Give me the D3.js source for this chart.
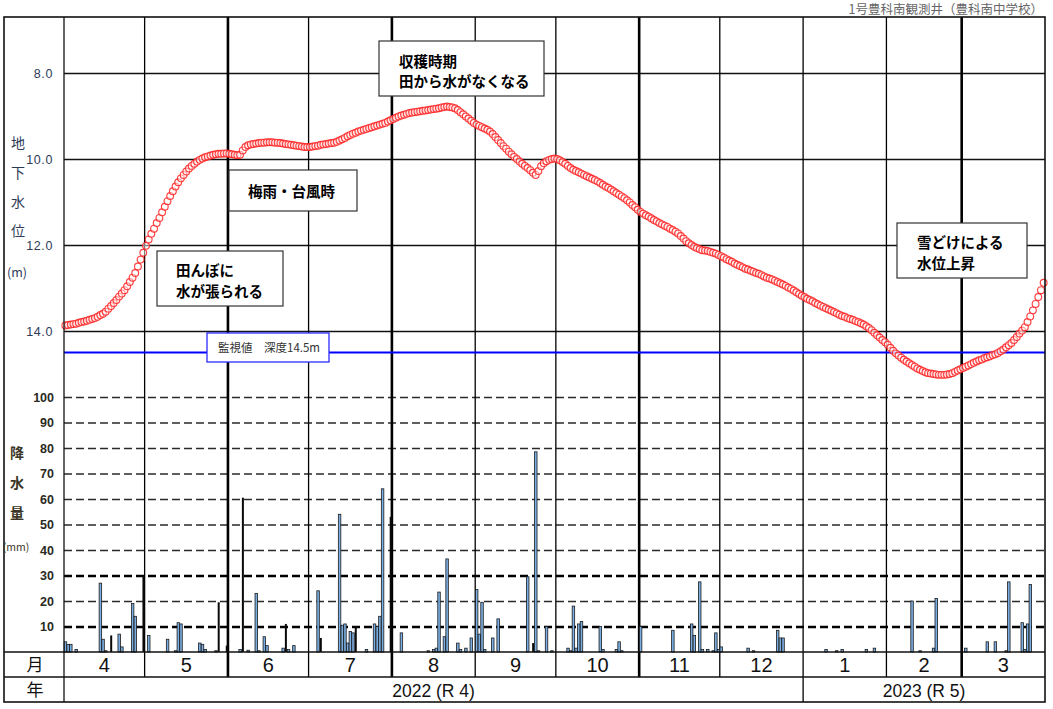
<!DOCTYPE html>
<html>
<head>
<meta charset="utf-8">
<script src="https://cdn.jsdelivr.net/npm/d3@7"></script>
<style>
  body { margin: 0; background: #fff; }
  .jp { font-family: "Noto Sans CJK JP", sans-serif; }
  .num { font-family: "Liberation Sans", Arial, sans-serif; }
  .narrow { font-family: "Liberation Sans Narrow", "Liberation Sans", Arial, sans-serif; }
</style>
</head>
<body>
<div id="chart"></div>
<script>
// Groundwater level (m below surface), daily, one array per month
let lvApr = [13.87,13.86,13.85,13.84,13.83,13.81,13.79,13.78,13.76,13.74,13.72,13.70,13.67,13.63,13.60,13.55,13.48,13.42,13.35,13.28,13.20,13.13,13.05,12.96,12.86,12.76,12.65,12.50,12.34,12.18];
let lvMay = [12.02,11.87,11.74,11.62,11.49,11.37,11.24,11.11,10.98,10.86,10.75,10.64,10.54,10.45,10.37,10.29,10.22,10.16,10.11,10.06,10.02,9.99,9.96,9.94,9.92,9.90,9.89,9.88,9.88,9.87,9.87];
let lvJun = [9.88,9.89,9.90,9.91,9.90,9.80,9.72,9.68,9.66,9.65,9.64,9.63,9.62,9.62,9.61,9.61,9.61,9.62,9.62,9.63,9.64,9.65,9.66,9.67,9.68,9.69,9.70,9.71,9.72,9.72];
let lvJul = [9.72,9.71,9.70,9.69,9.67,9.66,9.65,9.64,9.63,9.62,9.60,9.57,9.54,9.51,9.47,9.44,9.41,9.39,9.36,9.34,9.32,9.30,9.28,9.26,9.24,9.22,9.20,9.18,9.16,9.13,9.10];
let lvAug = [9.07,9.04,9.01,8.99,8.97,8.95,8.93,8.92,8.91,8.90,8.89,8.88,8.87,8.86,8.85,8.84,8.83,8.82,8.80,8.79,8.78,8.79,8.80,8.82,8.86,8.91,8.96,9.01,9.06,9.11,9.16];
let lvSep = [9.20,9.23,9.26,9.29,9.32,9.36,9.42,9.49,9.56,9.63,9.70,9.76,9.83,9.89,9.95,10.00,10.06,10.11,10.16,10.21,10.26,10.32,10.37,10.28,10.17,10.10,10.05,10.02,10.00,9.99];
let lvOct = [10.00,10.03,10.07,10.11,10.16,10.21,10.25,10.28,10.31,10.34,10.37,10.40,10.43,10.46,10.49,10.52,10.56,10.60,10.64,10.67,10.71,10.75,10.79,10.83,10.87,10.91,10.96,11.01,11.07,11.12,11.18];
let lvNov = [11.23,11.27,11.31,11.34,11.38,11.42,11.45,11.49,11.52,11.55,11.58,11.62,11.65,11.69,11.73,11.79,11.85,11.91,11.96,12.00,12.04,12.07,12.10,12.12,12.13,12.14,12.16,12.18,12.20,12.23];
let lvDec = [12.26,12.29,12.33,12.36,12.39,12.43,12.46,12.49,12.52,12.55,12.57,12.60,12.62,12.65,12.67,12.70,12.73,12.76,12.78,12.80,12.83,12.86,12.89,12.92,12.95,12.99,13.02,13.06,13.10,13.14,13.18];
let lvJan = [13.21,13.25,13.28,13.31,13.35,13.38,13.41,13.44,13.47,13.50,13.53,13.56,13.59,13.62,13.65,13.67,13.70,13.72,13.74,13.77,13.79,13.82,13.85,13.89,13.93,13.98,14.04,14.10,14.15,14.21,14.26];
let lvFeb = [14.32,14.39,14.46,14.52,14.57,14.62,14.67,14.71,14.75,14.79,14.83,14.87,14.90,14.93,14.96,14.98,14.99,15.00,15.01,15.02,15.02,15.02,15.01,15.00,14.98,14.95,14.92,14.89];
let lvMar = [14.86,14.83,14.80,14.77,14.74,14.71,14.68,14.66,14.63,14.61,14.59,14.56,14.54,14.51,14.47,14.43,14.38,14.33,14.28,14.21,14.14,14.06,13.99,13.91,13.79,13.66,13.52,13.37,13.21,13.05,12.88];

// Daily precipitation (mm), blue bars
let rainBlue = [
  ['2022-04-01',4],['2022-04-02',3],['2022-04-03',3],['2022-04-05',1],['2022-04-14',27],['2022-04-15',5],
  ['2022-04-16',0.5],['2022-04-21',7],['2022-04-22',2],['2022-04-26',19],['2022-04-27',14],
  ['2022-05-02',6.5],['2022-05-09',5],['2022-05-12',0.5],['2022-05-13',11.5],['2022-05-14',11],
  ['2022-05-21',3.5],['2022-05-22',3],['2022-05-23',1],['2022-05-27',0.5],
  ['2022-06-05',1],['2022-06-08',0.7],['2022-06-11',23],['2022-06-12',0.5],['2022-06-14',6],['2022-06-15',2.5],
  ['2022-06-21',1.5],['2022-06-23',1],['2022-06-25',2.5],
  ['2022-07-04',24],['2022-07-12',54],['2022-07-13',10.5],['2022-07-14',11],['2022-07-15',3.5],['2022-07-16',8],
  ['2022-07-17',7.5],['2022-07-22',1],['2022-07-25',11],['2022-07-26',10],['2022-07-27',14],['2022-07-28',64],
  ['2022-08-04',7.5],['2022-08-14',0.5],['2022-08-16',1],['2022-08-17',1.5],['2022-08-18',23.5],['2022-08-20',6],
  ['2022-08-21',36.5],['2022-08-25',3.5],['2022-08-26',1],['2022-08-28',1.5],['2022-08-30',5.5],
  ['2022-09-01',24.5],['2022-09-02',7],['2022-09-03',19.5],['2022-09-04',1],['2022-09-07',5.5],['2022-09-09',13],
  ['2022-09-20',29.5],['2022-09-23',78.5],['2022-09-24',0.5],['2022-09-27',10],['2022-09-29',0.5],
  ['2022-10-05',1.5],['2022-10-06',0.5],['2022-10-07',18],['2022-10-08',1.5],['2022-10-09',11],['2022-10-10',12],
  ['2022-10-17',10],['2022-10-18',1],['2022-10-23',1],['2022-10-24',4],['2022-10-25',0.5],
  ['2022-11-01',10],['2022-11-13',8.5],['2022-11-20',11],['2022-11-21',6.5],['2022-11-23',27.5],['2022-11-24',1],
  ['2022-11-26',1],['2022-11-28',0.5],['2022-11-29',7.5],['2022-11-30',1],
  ['2022-12-01',2],['2022-12-11',1.5],['2022-12-13',0.5],['2022-12-22',8.5],['2022-12-23',5.5],['2022-12-24',5.5],
  ['2023-01-09',1],['2023-01-13',0.5],['2023-01-15',1],['2023-01-24',1],['2023-01-27',1.5],
  ['2023-02-10',20],['2023-02-13',0.5],['2023-02-18',1.5],['2023-02-19',21],
  ['2023-03-02',1.5],['2023-03-10',4],['2023-03-13',4],['2023-03-17',0.5],['2023-03-18',27.5],['2023-03-23',11.5],
  ['2023-03-24',1],['2023-03-25',11],['2023-03-26',26.5]
];
// Daily precipitation (mm), dark bars
let rainDark = [
  ['2022-04-18',6.5],['2022-04-30',30],['2022-05-28',19.5],['2022-05-31',2.5],['2022-06-06',60.5],
  ['2022-06-22',11],['2022-07-05',5.5],['2022-07-18',10],['2022-07-31',53],['2022-09-22',3.5]
];

let levelTicks = [8, 10, 12, 14];
let rainTicks = [10, 20, 30, 40, 50, 60, 70, 80, 90, 100];
let boldRainTicks = [10, 30];
let warningLevel = 14.5;
let warningLabel = '監視値　深度14.5m';
let title = '1号豊科南観測井（豊科南中学校）';
let yearSpans = [
  {label: '2022 (R 4)', from: '2022-04-01', to: '2023-01-01'},
  {label: '2023 (R 5)', from: '2023-01-01', to: '2023-04-01'}
];
let notes = [
  {lines: ['田んぼに', '水が張られる']},
  {lines: ['梅雨・台風時']},
  {lines: ['収穫時期', '田から水がなくなる']},
  {lines: ['雪どけによる', '水位上昇']}
];

// layout
let svgWidth = 1053;
let svgHeight = 709;
let frame = {left: 4, top: 17, right: 1045, bottom: 702};
let plotLeft = 64;
let rainBase = 652;
let monthRowBottom = 677;
let noteBoxes = [
  {x: 157, y: 251, w: 126, h: 55, tx: 176, ty: [276, 297]},
  {x: 229, y: 170, w: 128, h: 41, tx: 248, ty: [197]},
  {x: 379, y: 41, w: 165, h: 55, tx: 399, ty: [67, 87]},
  {x: 897, y: 223, w: 130, h: 55, tx: 917, ty: [248, 269]}
];
let warnBox = {x: 207, y: 333, w: 122, h: 29};

let parseDate = d3.timeParse('%Y-%m-%d');
let startDate = new Date(2022, 3, 1);
let endDate = new Date(2023, 3, 1);

let xScale = d3.scaleTime().domain([startDate, endDate]).range([plotLeft, frame.right]);
let dayPx = (frame.right - plotLeft) / 365;
let yLevel = d3.scaleLinear().domain([8, 14]).range([73, 331]);
let yRain = d3.scaleLinear().domain([0, 100]).range([rainBase, 397]);

let levelMonths = [lvApr, lvMay, lvJun, lvJul, lvAug, lvSep, lvOct, lvNov, lvDec, lvJan, lvFeb, lvMar];
let levelData = [];
levelMonths.forEach(function(vals, mi) {
  let m0 = d3.timeMonth.offset(startDate, mi);
  vals.forEach(function(v, i) {
    levelData.push({date: d3.timeDay.offset(m0, i), value: v});
  });
});

let svg = d3.select('#chart').append('svg')
  .attr('width', svgWidth)
  .attr('height', svgHeight);

svg.append('rect').attr('width', svgWidth).attr('height', svgHeight).attr('fill', '#fff');

// title
svg.append('text')
  .classed('jp', true)
  .attr('x', 1043).attr('y', 14)
  .attr('text-anchor', 'end')
  .attr('font-size', '12.5px')
  .attr('fill', '#666')
  .text(title);

// level grid + labels
let levelAxis = d3.axisLeft(yLevel)
  .tickValues(levelTicks)
  .tickFormat(d3.format('.1f'))
  .tickSize(-(frame.right - plotLeft))
  .tickPadding(11);

svg.append('g')
  .attr('transform', `translate(${plotLeft},0)`)
  .call(levelAxis)
  .call(g => g.select('.domain').remove())
  .call(g => g.selectAll('line').attr('stroke', '#111').attr('stroke-width', 1.3))
  .call(g => g.selectAll('text')
    .attr('class', 'num')
    .attr('font-size', '12.5px')
    .attr('letter-spacing', '0.6px')
    .attr('fill', '#2d3b58'));

// rain grid + labels
let rainAxis = d3.axisLeft(yRain)
  .tickValues(rainTicks)
  .tickFormat(d3.format('d'))
  .tickSize(-(frame.right - plotLeft))
  .tickPadding(10);

svg.append('g')
  .attr('transform', `translate(${plotLeft},0)`)
  .call(rainAxis)
  .call(g => g.select('.domain').remove())
  .call(g => g.selectAll('line')
    .attr('stroke', d => boldRainTicks.includes(d) ? '#000' : '#2a2a2a')
    .attr('stroke-width', d => boldRainTicks.includes(d) ? 2.3 : 1.4)
    .attr('stroke-dasharray', '8,4'))
  .call(g => g.selectAll('text')
    .attr('class', 'narrow')
    .attr('font-size', '12.5px')
    .attr('font-weight', 'bold')
    .attr('fill', '#2a2a22'));

// month boundaries
let monthStarts = d3.timeMonth.range(d3.timeMonth.offset(startDate, 1), endDate);
let thickMonths = [5, 7, 10, 2];
svg.append('g').selectAll('line')
  .data(monthStarts)
  .enter()
  .append('line')
  .attr('x1', d => xScale(d)).attr('x2', d => xScale(d))
  .attr('y1', frame.top)
  .attr('y2', d => d.getMonth() === 0 ? frame.bottom : monthRowBottom)
  .attr('stroke', '#000')
  .attr('stroke-width', d => thickMonths.includes(d.getMonth()) ? 2.6 : 1.3);

// warning line
svg.append('line')
  .attr('x1', plotLeft).attr('x2', frame.right)
  .attr('y1', yLevel(warningLevel)).attr('y2', yLevel(warningLevel))
  .attr('stroke', '#0000ff')
  .attr('stroke-width', 2);

// precipitation bars
svg.append('g').selectAll('rect')
  .data(rainBlue)
  .enter()
  .append('rect')
  .attr('x', d => xScale(parseDate(d[0])) + 0.2)
  .attr('y', d => yRain(d[1]))
  .attr('width', dayPx - 0.2)
  .attr('height', d => rainBase - yRain(d[1]))
  .attr('fill', '#7aaee2')
  .attr('stroke', '#1b1b1b')
  .attr('stroke-width', 0.8);

svg.append('g').selectAll('rect')
  .data(rainDark)
  .enter()
  .append('rect')
  .attr('x', d => xScale(parseDate(d[0])) + 0.5)
  .attr('y', d => yRain(d[1]))
  .attr('width', 2)
  .attr('height', d => rainBase - yRain(d[1]))
  .attr('fill', '#0a0a0a');

// level circles
svg.append('g').selectAll('circle')
  .data(levelData)
  .enter()
  .append('circle')
  .attr('cx', d => xScale(d.date) + dayPx / 2)
  .attr('cy', d => yLevel(d.value))
  .attr('r', 3.4)
  .attr('fill', '#fff')
  .attr('fill-opacity', 0.5)
  .attr('stroke', '#ff2020')
  .attr('stroke-opacity', 0.85)
  .attr('stroke-width', 1.15);

// note boxes
notes.forEach(function(n, i) {
  let b = noteBoxes[i];
  svg.append('rect')
    .attr('x', b.x).attr('y', b.y).attr('width', b.w).attr('height', b.h)
    .attr('fill', '#fff')
    .attr('stroke', '#333')
    .attr('stroke-width', 1.2);
  n.lines.forEach(function(line, j) {
    svg.append('text')
      .classed('jp', true)
      .attr('x', b.tx).attr('y', b.ty[j])
      .attr('font-size', '14.5px')
      .attr('font-weight', 'bold')
      .attr('fill', '#000')
      .text(line);
  });
});

// warning label
svg.append('rect')
  .attr('x', warnBox.x).attr('y', warnBox.y).attr('width', warnBox.w).attr('height', warnBox.h)
  .attr('fill', '#fff')
  .attr('stroke', '#2b2bff')
  .attr('stroke-width', 1.3);
svg.append('text')
  .classed('jp', true)
  .attr('x', warnBox.x + 11).attr('y', warnBox.y + 19)
  .attr('font-size', '11.5px')
  .attr('fill', '#333')
  .text(warningLabel);

// frame
let frameG = svg.append('g').attr('stroke', '#111').attr('fill', 'none');
frameG.append('rect')
  .attr('x', frame.left).attr('y', frame.top)
  .attr('width', frame.right - frame.left).attr('height', frame.bottom - frame.top)
  .attr('stroke-width', 1.6);
frameG.append('line')
  .attr('x1', plotLeft).attr('x2', plotLeft).attr('y1', frame.top).attr('y2', frame.bottom)
  .attr('stroke-width', 1.3);
[rainBase, monthRowBottom].forEach(function(y) {
  frameG.append('line')
    .attr('x1', frame.left).attr('x2', frame.right).attr('y1', y).attr('y2', y)
    .attr('stroke-width', 1.4);
});

// month labels
let months = d3.timeMonth.range(startDate, endDate);
svg.append('g').selectAll('text')
  .data(months)
  .enter()
  .append('text')
  .classed('narrow', true)
  .attr('x', d => (xScale(d) + xScale(d3.timeMonth.offset(d, 1))) / 2)
  .attr('y', 672)
  .attr('text-anchor', 'middle')
  .attr('font-size', '20px')
  .attr('fill', '#111')
  .text(d => d.getMonth() + 1);

// year labels
svg.append('g').selectAll('text')
  .data(yearSpans)
  .enter()
  .append('text')
  .classed('num', true)
  .attr('x', d => (xScale(parseDate(d.from)) + xScale(parseDate(d.to))) / 2)
  .attr('y', 697)
  .attr('text-anchor', 'middle')
  .attr('font-size', '17.5px')
  .attr('fill', '#111')
  .text(d => d.label);

// left column labels
let leftCol = svg.append('g').classed('jp', true).attr('text-anchor', 'middle');
['地', '下', '水', '位'].forEach(function(ch, i) {
  leftCol.append('text')
    .attr('x', 18).attr('y', [148, 178, 207, 236][i])
    .attr('font-size', '14px')
    .attr('fill', '#2d3b58')
    .text(ch);
});
leftCol.append('text').attr('x', 17).attr('y', 277).attr('font-size', '12.5px').attr('fill', '#2d3b58').text('(m)');
['降', '水', '量'].forEach(function(ch, i) {
  leftCol.append('text')
    .attr('x', 17).attr('y', [458, 488, 518][i])
    .attr('font-size', '14px')
    .attr('font-weight', 'bold')
    .attr('fill', '#3b3526')
    .text(ch);
});
leftCol.append('text').attr('x', 16).attr('y', 551).attr('font-size', '10.5px').attr('fill', '#3b3526').text('(mm)');
leftCol.append('text').attr('x', 35).attr('y', 671).attr('font-size', '17px').attr('fill', '#111').text('月');
leftCol.append('text').attr('x', 35).attr('y', 696).attr('font-size', '17px').attr('fill', '#111').text('年');
</script>
</body>
</html>
